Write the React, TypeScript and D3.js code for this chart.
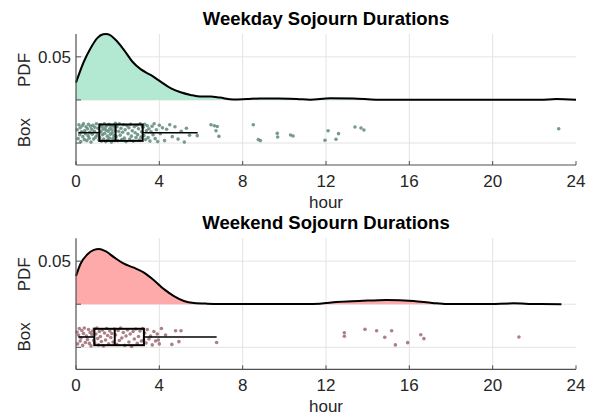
import React from "react";
import * as d3 from "d3";

const xTicks = [0, 4, 8, 12, 16, 20, 24];
const titles = ["Weekday Sojourn Durations", "Weekend Sojourn Durations"];

// PDF curves (hour, density)
const weekdayPdfHours = [0, 0.38, 0.7, 1.02, 1.3, 1.45, 1.62, 1.9, 2.3, 2.7, 3.1, 3.58, 4.06, 4.54, 5.02, 5.5, 5.98, 6.46, 6.9, 7.55, 8.2, 8.83, 9.7, 10.6, 11.23, 12.2, 13.3, 14.4, 15.5, 18, 21, 22.3, 23.05, 24];
const weekdayPdf = [0.0201, 0.0446, 0.06, 0.0717, 0.0761, 0.0765, 0.0754, 0.0698, 0.0581, 0.0446, 0.0357, 0.029, 0.0213, 0.0136, 0.0089, 0.0058, 0.0039, 0.0039, 0.0027, 0.0004, 0.001, 0.0017, 0.0016, 0.0012, 0.0003, 0.002, 0.0017, 0.0003, 0.0001, 0.0001, 0.0001, 0.0002, 0.001, 0.0002];

const weekendPdfHours = [0, 0.22, 0.54, 0.86, 1.1, 1.42, 1.82, 2.3, 2.78, 3.26, 3.74, 4.22, 4.7, 5.18, 5.66, 6.3, 7.1, 9, 11, 11.7, 12.5, 13.6, 14.9, 16.2, 17.1, 17.8, 19.7, 21, 22.1, 23.3];
const weekendPdf = [0.0328, 0.047, 0.0577, 0.063, 0.0642, 0.0615, 0.0546, 0.047, 0.0424, 0.0367, 0.0279, 0.0175, 0.0095, 0.0038, 0.0015, 0.0007, 0.0004, 0.0002, 0.0003, 0.0006, 0.0025, 0.0037, 0.005, 0.0037, 0.0015, 0.0002, 0.0002, 0.001, 0.0002, 0.0001];

// Box statistics: [lower whisker, Q1, median, Q3, upper whisker]
const weekdayBox = [0.11, 1.12, 1.9, 3.2, 5.84];
const weekendBox = [0.11, 0.88, 1.86, 3.26, 6.75];

// Raw points (hours) and their vertical jitter (-1..1)
const weekdayHours = [
  0.06, 0.1, 0.14, 0.18, 0.2, 0.23, 0.27, 0.3, 0.33, 0.36, 0.4, 0.42, 0.45, 0.48, 0.52, 0.55, 0.58, 0.6, 0.63, 0.66, 0.7, 0.72, 0.75, 0.78, 0.81, 0.85, 0.88, 0.9, 0.94, 0.98, 1.02, 1.05, 1.1,
  1.14, 1.17, 1.2, 1.22, 1.25, 1.28, 1.3, 1.33, 1.36, 1.38, 1.4, 1.43, 1.45, 1.48, 1.5, 1.52, 1.55, 1.58, 1.6, 1.62, 1.65, 1.68, 1.7, 1.72, 1.74, 1.77, 1.8, 1.82, 1.84, 1.86, 1.88, 1.89,
  1.93, 1.97, 2.0, 2.05, 2.08, 2.12, 2.16, 2.2, 2.24, 2.28, 2.32, 2.36, 2.4, 2.45, 2.5, 2.54, 2.58, 2.62, 2.66, 2.7, 2.75, 2.8, 2.84, 2.88, 2.92, 2.96, 3.0, 3.04, 3.08, 3.12, 3.15, 3.19,
  3.22, 3.26, 3.3, 3.34, 3.38, 3.42, 3.46, 3.5, 3.55, 3.6, 3.65, 3.7, 3.75, 3.8, 3.86, 3.92, 4.0, 4.05, 4.15, 4.25, 4.35, 4.5, 4.62, 4.75, 4.9, 5.05, 5.2, 5.3, 5.45, 5.82,
  6.48, 6.64, 6.78, 6.72, 6.86, 8.51, 8.75, 8.85, 9.66, 9.68, 10.3, 10.42, 11.95, 12.1, 12.48, 12.6, 13.39, 13.68, 13.82, 23.17,
];
const weekdayJitter = [
  0.3, -0.6, 0.8, -0.2, 0.5, -0.9, 0.1, 0.7, -0.4, 0.9, -0.7, 0.2, -0.1, 0.6, -0.8, 0.4, -0.3, 0.85, -0.55, 0.05, 0.65, -0.95, 0.35, -0.15, 0.75, -0.65, 0.15, 0.55, -0.45, 0.9, -0.25, 0.45, -0.75,
  -0.5, 0.8, 0.1, -0.85, 0.6, -0.2, 0.35, -0.65, 0.9, -0.05, 0.5, -0.9, 0.25, 0.7, -0.35, -0.75, 0.15, 0.85, -0.55, 0.4, -0.15, 0.65, -0.95, 0.3, 0.0, -0.6, 0.75, -0.3, 0.55, -0.8, 0.2, 0.95,
  -0.4, 0.6, -0.8, 0.15, 0.9, -0.25, 0.45, -0.7, 0.05, 0.8, -0.55, 0.3, -0.9, 0.7, -0.1, 0.5, -0.65, 0.85, -0.35, 0.2, -0.85, 0.6, 0.0, -0.5, 0.75, -0.2, 0.4, -0.75, 0.9, -0.45, 0.1, 0.65,
  0.55, -0.3, 0.85, -0.7, 0.2, 0.7, -0.5, 0.4, -0.85, 0.1, 0.65, -0.2, 0.9, -0.6, 0.3, -0.9, 0.75, -0.1, 0.5, -0.8, 0.35, 0.8, -0.4, 0.6, -0.65, 0.15, -0.95, 0.45, -0.25, -0.3,
  0.8, 0.7, 0.63, 0.2, -0.37, 0.8, -0.7, -0.8, -0.07, -0.43, -0.23, -0.33, -0.77, 0.2, -0.67, -0.1, 0.57, 0.47, 0.27, 0.4,
];

const weekendHours = [
  0.05, 0.08, 0.12, 0.16, 0.2, 0.24, 0.28, 0.32, 0.36, 0.4, 0.45, 0.5, 0.55, 0.6, 0.64, 0.68, 0.72, 0.76, 0.8, 0.85, 0.87,
  0.9, 0.95, 1.0, 1.04, 1.08, 1.12, 1.17, 1.22, 1.27, 1.32, 1.37, 1.42, 1.47, 1.52, 1.57, 1.62, 1.67, 1.72, 1.78, 1.84,
  1.9, 1.96, 2.02, 2.08, 2.14, 2.2, 2.27, 2.34, 2.4, 2.47, 2.54, 2.6, 2.67, 2.74, 2.8, 2.87, 2.94, 3.0, 3.07, 3.14, 3.2, 3.25,
  3.3, 3.36, 3.42, 3.5, 3.58, 3.66, 3.74, 3.82, 3.9, 4.0, 4.1, 4.3, 4.78, 4.94, 4.6, 5.04, 3.95, 6.75,
  12.88, 12.88, 13.87, 14.43, 14.82, 15.15, 15.33, 15.92, 16.55, 16.7, 21.26,
];
const weekendJitter = [
  0.5, -0.7, 0.2, 0.85, -0.4, -0.1, 0.65, -0.85, 0.35, 0.9, -0.55, 0.1, -0.25, 0.75, -0.65, 0.45, -0.9, 0.25, 0.6, -0.35, 0.8,
  -0.6, 0.3, 0.9, -0.15, -0.8, 0.55, 0.05, -0.45, 0.7, -0.9, 0.4, -0.3, 0.85, 0.15, -0.7, 0.6, -0.05, 0.35, -0.5, 0.8,
  0.2, -0.75, 0.65, -0.35, 0.9, -0.1, 0.45, -0.85, 0.1, 0.7, -0.5, 0.3, -0.95, 0.55, -0.2, 0.8, -0.65, 0.05, 0.6, -0.4, 0.85, -0.3,
  0.4, -0.6, 0.75, -0.2, 0.1, -0.8, 0.55, -0.4, 0.3, -0.7, 0.85, 0.2, 0.63, -0.47, -0.75, 0.63, -0.3, -0.55,
  0.43, 0.07, 0.77, 0.63, -0.03, 0.63, -0.8, -0.57, 0.23, -0.17, 0.0,
];

const FONT = "'Liberation Sans', Arial, Helvetica, sans-serif";

type PanelProps = {
  title: string;
  pdfHours: number[];
  pdf: number[];
  box: number[];
  hours: number[];
  jitter: number[];
  top: number;
  fill: string;
  dot: string;
};

function Panel({ title, pdfHours, pdf, box, hours, jitter, top, fill, dot }: PanelProps) {
  const plotTop = top;
  const plotBottom = top + 131;
  const x = d3.scaleLinear().domain([0, 24]).range([76, 576]);
  const y = d3.scaleLinear().domain([-0.0755, 0.0765]).range([plotBottom, plotTop]);
  const boxCenter = -0.038;
  const boxHalf = 0.0095;
  const jit = 0.0115;

  const pts = pdfHours.map((h, i) => [h, pdf[i]] as [number, number]);
  const area = d3
    .area<[number, number]>()
    .x((d) => x(d[0]))
    .y0(y(0))
    .y1((d) => y(d[1]))
    .curve(d3.curveMonotoneX);
  const line = d3
    .line<[number, number]>()
    .x((d) => x(d[0]))
    .y((d) => y(d[1]))
    .curve(d3.curveMonotoneX);

  const grid = "#e3e3e3";
  const axis = "#505050";
  const yTicks = [-0.05, 0, 0.05];
  const fs = 17;

  return (
    <g>
      <text x={326} y={top - 9} textAnchor="middle" fontFamily={FONT} fontWeight="bold" fontSize={18.5} fill="#000">
        {title}
      </text>
      {xTicks.slice(1, -1).map((t) => (
        <line key={"gx" + t} x1={x(t)} x2={x(t)} y1={plotTop} y2={plotBottom} stroke={grid} strokeWidth={1} />
      ))}
      {yTicks.map((t) => (
        <line key={"gy" + t} x1={76} x2={576} y1={y(t)} y2={y(t)} stroke={grid} strokeWidth={1} />
      ))}
      <path d={area(pts) || ""} fill={fill} stroke="none" />
      <path d={line(pts) || ""} fill="none" stroke="#000" strokeWidth={2} strokeLinejoin="round" />
      {hours.map((h, i) => (
        <circle key={"p" + i} cx={x(h)} cy={y(boxCenter + jitter[i] * jit)} r={1.8} fill={dot} fillOpacity={0.85} />
      ))}
      <line x1={x(box[0])} x2={x(box[1])} y1={y(boxCenter)} y2={y(boxCenter)} stroke="#000" strokeWidth={1.6} />
      <line x1={x(box[3])} x2={x(box[4])} y1={y(boxCenter)} y2={y(boxCenter)} stroke="#000" strokeWidth={1.6} />
      <rect
        x={x(box[1])}
        y={y(boxCenter + boxHalf)}
        width={x(box[3]) - x(box[1])}
        height={y(boxCenter - boxHalf) - y(boxCenter + boxHalf)}
        fill="none"
        stroke="#000"
        strokeWidth={2}
      />
      <line x1={x(box[2])} x2={x(box[2])} y1={y(boxCenter + boxHalf)} y2={y(boxCenter - boxHalf)} stroke="#000" strokeWidth={2} />
      <line x1={76} x2={76} y1={plotTop} y2={plotBottom} stroke={axis} strokeWidth={1.2} />
      <line x1={76} x2={576} y1={plotBottom} y2={plotBottom} stroke={axis} strokeWidth={1.2} />
      {yTicks.map((t) => (
        <line key={"ty" + t} x1={76} x2={81} y1={y(t)} y2={y(t)} stroke={axis} strokeWidth={1} />
      ))}
      {xTicks.map((t) => (
        <line key={"tx" + t} x1={x(t)} x2={x(t)} y1={plotBottom} y2={plotBottom - 4} stroke={axis} strokeWidth={1} />
      ))}
      {xTicks.map((t) => (
        <text key={"lx" + t} x={x(t)} y={plotBottom + 22} textAnchor="middle" fontFamily={FONT} fontSize={fs} fill="#262626">
          {t}
        </text>
      ))}
      <text x={71} y={y(0.05) + 6} textAnchor="end" fontFamily={FONT} fontSize={fs} fill="#262626">
        0.05
      </text>
      <text x={326} y={plotBottom + 43} textAnchor="middle" fontFamily={FONT} fontSize={fs} fill="#262626">
        hour
      </text>
      <text transform={`translate(29.5, ${(plotTop + y(0)) / 2 + 3}) rotate(-90)`} textAnchor="middle" fontFamily={FONT} fontSize={fs} fill="#262626">
        PDF
      </text>
      <text transform={`translate(29.5, ${y(boxCenter)}) rotate(-90)`} textAnchor="middle" fontFamily={FONT} fontSize={fs} fill="#262626">
        Box
      </text>
    </g>
  );
}

export default function App() {
  return (
    <svg width={594} height={416} style={{ position: "absolute", left: 0, top: 0, background: "#fff" }}>
      <rect width={594} height={416} fill="#fff" />
      <Panel
        title={titles[0]}
        pdfHours={weekdayPdfHours}
        pdf={weekdayPdf}
        box={weekdayBox}
        hours={weekdayHours}
        jitter={weekdayJitter}
        top={34}
        fill="#b3e8d3"
        dot="#5f8a7c"
      />
      <Panel
        title={titles[1]}
        pdfHours={weekendPdfHours}
        pdf={weekendPdf}
        box={weekendBox}
        hours={weekendHours}
        jitter={weekendJitter}
        top={238.3}
        fill="#ffaaaa"
        dot="#9c6a72"
      />
    </svg>
  );
}
